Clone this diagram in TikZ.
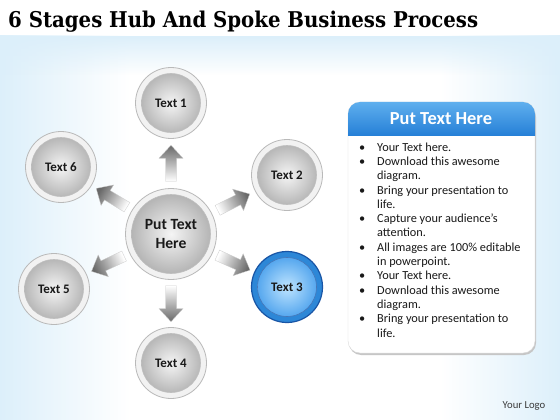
\documentclass[tikz,border=0pt]{standalone}
\usepackage{fontspec}
\setmainfont{Carlito}
\newfontfamily\titlefont{DejaVu Serif}
\usetikzlibrary{calc,fadings}
\definecolor{bgblue}{RGB}{220,239,250}
\definecolor{hdrtop}{RGB}{95,175,238}
\definecolor{hdrbot}{RGB}{38,128,215}
\definecolor{bdark}{RGB}{25,85,165}
\definecolor{bring}{RGB}{45,135,215}
\definecolor{blight}{RGB}{190,228,255}
\definecolor{bmid}{RGB}{65,155,235}
\definecolor{txt}{RGB}{25,25,25}
\definecolor{arrowhead}{RGB}{105,105,105}
\begin{document}
\begin{tikzpicture}[x=1pt,y=-1pt,
  ball/.style={circle, minimum size=#1, inner sep=0pt, draw=gray!55, fill=gray!10, line width=0.8pt,
    text=txt, font=\bfseries\fontsize{13}{14}\selectfont,
    path picture={\shade[inner color=gray!8, outer color=gray!66] (path picture bounding box.center) circle[radius=#1/2-6pt];
      \draw[gray!50, line width=0.6pt] (path picture bounding box.center) circle[radius=#1/2-6pt];}},
  blueball/.style={circle, minimum size=#1, inner sep=0pt, draw=bdark, fill=bring, line width=1.2pt,
    text=txt, font=\bfseries\fontsize{13}{14}\selectfont,
    path picture={\shade[inner color=blight, outer color=bmid] (path picture bounding box.center) circle[radius=#1/2-6pt];
      \draw[bdark!80, line width=0.6pt] (path picture bounding box.center) circle[radius=#1/2-6pt];}},
  spoke/.style={top color=arrowhead, bottom color=white, shading angle=#1-90, draw=gray!40, line width=0.3pt},
  bul/.style={anchor=base west, text=txt, font=\fontsize{12.3}{14}\selectfont, inner sep=0pt},
]
\useasboundingbox (0,0) rectangle (560,420);
% background
\fill[white] (0,0) rectangle (560,420);
\shade[left color=bgblue, right color=white] (0,36) rectangle (130,420);
\shade[left color=white, right color=bgblue] (440,36) rectangle (560,420);
\fill[bgblue, path fading=south] (0,36) rectangle (560,75);
% title
\node[anchor=base west, inner sep=0pt] (title) at (8,28)
  {\resizebox{470pt}{16.5pt}{\titlefont\bfseries 6 Stages Hub And Spoke Business Process}};
% hub and satellites
\node[ball=91pt, font=\bfseries\fontsize{15.6}{19}\selectfont, align=center] (hub) at (171,234) {Put Text\\Here};
\node[ball=71pt] (t1) at (171,103) {Text 1};
\node[ball=71pt] (t2) at (287,175) {Text 2};
\node[blueball=71pt] (t3) at (287,287) {Text 3};
\node[ball=71pt] (t4) at (171,363) {Text 4};
\node[ball=71pt] (t5) at (54,289) {Text 5};
\node[ball=71pt] (t6) at (61,167) {Text 6};
% spokes (block arrows from hub towards each stage)
\foreach \t/\a in {t1/90, t2/27, t3/-24.5, t4/-90, t5/-154.8, t6/148.6}{
  \coordinate (m) at ($(hub)!0.54!(\t)$);
  \shade[spoke=\a]
    ($(m)+(\a:-18pt)+(\a+90:5.5pt)$) -- ($(m)+(\a:5pt)+(\a+90:5.5pt)$) --
    ($(m)+(\a:5pt)+(\a+90:12pt)$) -- ($(m)+(\a:18pt)$) --
    ($(m)+(\a:5pt)+(\a-90:12pt)$) -- ($(m)+(\a:5pt)+(\a-90:5.5pt)$) --
    ($(m)+(\a:-18pt)+(\a-90:5.5pt)$) -- cycle;
}
% panel
\fill[gray!45, rounded corners=12pt] (349,105) rectangle (536,355);
\fill[white, rounded corners=12pt, draw=gray!30] (348,102) rectangle (535,353);
\begin{scope}
  \clip[rounded corners=12pt] (348,102) rectangle (535,353);
  \shade[top color=hdrtop, bottom color=hdrbot] (348,102) rectangle (535,135);
\end{scope}
\node[text=white, font=\bfseries\fontsize{18.4}{21}\selectfont] (hdr) at (441,119) {Put Text Here};
\foreach \y/\b/\s in {151/1/Your Text here., 165/1/Download this awesome, 179/0/diagram.,
  194/1/Bring your presentation to, 208/0/life., 222/1/Capture your audience’s, 236/0/attention.,
  251/1/All images are 100\% editable, 265/0/in powerpoint., 279/1/Your Text here.,
  294/1/Download this awesome, 308/0/diagram., 322/1/Bring your presentation to, 337/0/life.}{
  \node[bul] at (377,\y) {\s};
  \ifnum\b=1 \node[bul] at (359,\y) {•}; \fi
}
\node[text=txt!85, font=\fontsize{10.7}{12}\selectfont] (logo) at (524,406) {Your Logo};
\end{tikzpicture}
\end{document}
